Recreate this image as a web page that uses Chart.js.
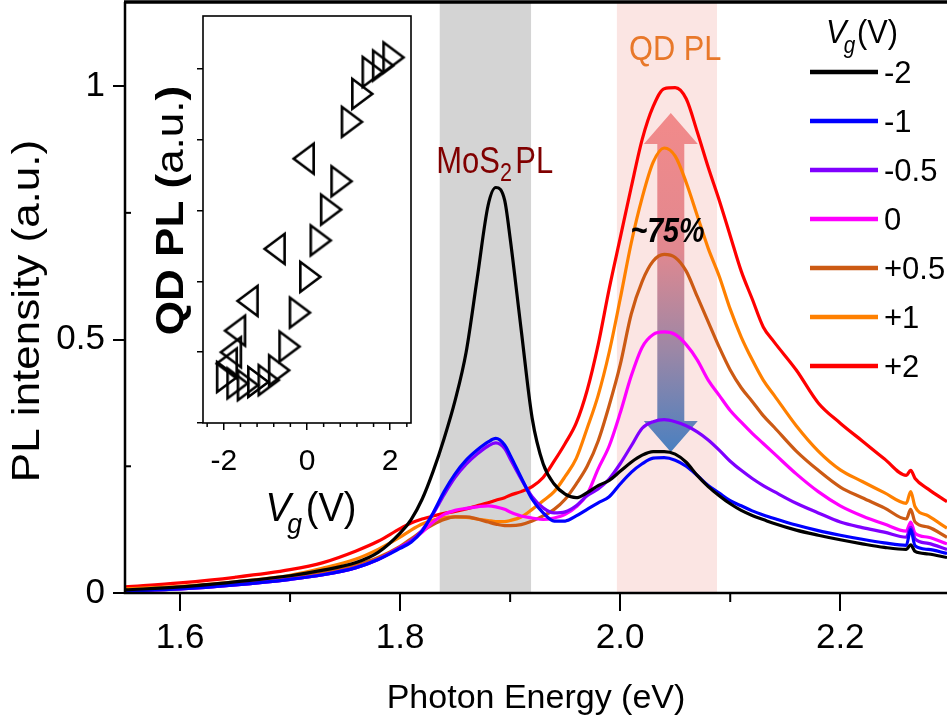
<!DOCTYPE html>
<html>
<head>
<meta charset="utf-8">
<script src="https://cdn.jsdelivr.net/npm/chart.js@4.4.1/dist/chart.umd.min.js"></script>
<style>
  html, body { margin: 0; padding: 0; background: #fff; }
  #wrap { position: relative; width: 947px; height: 725px; overflow: hidden; }
  #main { position: absolute; left: 0; top: 0; }
  #inset { position: absolute; left: 140px; top: 5px; }
</style>
</head>
<body>
<div id="wrap">
  <canvas id="main" width="947" height="725"></canvas>
  <canvas id="inset" width="290" height="555"></canvas>
</div>
<script>
// photon energy (eV)
const energy = [1.55, 1.60, 1.65, 1.70, 1.73, 1.76, 1.78, 1.80, 1.81, 1.82,
  1.83, 1.84, 1.85, 1.86, 1.87, 1.88, 1.887, 1.895, 1.90, 1.91,
  1.92, 1.93, 1.94, 1.95, 1.96, 1.97, 1.98, 1.99, 2.00, 2.01,
  2.02, 2.03, 2.04, 2.05, 2.06, 2.07, 2.08, 2.09, 2.10, 2.11,
  2.12, 2.13, 2.14, 2.16, 2.18, 2.20, 2.22, 2.24, 2.26, 2.264,
  2.268, 2.28, 2.297];

// PL intensity for each gate voltage
const plM2 = [0.006, 0.012, 0.022, 0.034, 0.045, 0.060, 0.080, 0.118, 0.145, 0.185,
  0.240, 0.305, 0.380, 0.475, 0.620, 0.765, 0.800, 0.775, 0.700, 0.520,
  0.345, 0.255, 0.215, 0.195, 0.188, 0.198, 0.212, 0.222, 0.240, 0.258,
  0.272, 0.279, 0.279, 0.274, 0.258, 0.232, 0.210, 0.192, 0.176, 0.163,
  0.153, 0.145, 0.137, 0.124, 0.114, 0.105, 0.097, 0.090, 0.086, 0.095,
  0.082, 0.077, 0.070];
const plM1 = [0.004, 0.008, 0.016, 0.027, 0.036, 0.050, 0.066, 0.088, 0.100, 0.122,
  0.158, 0.200, 0.235, 0.262, 0.282, 0.298, 0.305, 0.292, 0.272, 0.228,
  0.185, 0.158, 0.142, 0.142, 0.152, 0.165, 0.178, 0.190, 0.215, 0.238,
  0.255, 0.266, 0.267, 0.262, 0.250, 0.232, 0.212, 0.197, 0.182, 0.172,
  0.162, 0.154, 0.147, 0.134, 0.123, 0.114, 0.106, 0.099, 0.094, 0.125,
  0.093, 0.086, 0.078];
const plM05 = [0.004, 0.008, 0.016, 0.027, 0.036, 0.050, 0.066, 0.090, 0.103, 0.124,
  0.156, 0.194, 0.228, 0.254, 0.274, 0.290, 0.296, 0.285, 0.265, 0.225,
  0.190, 0.168, 0.158, 0.160, 0.172, 0.192, 0.205, 0.225, 0.255, 0.290,
  0.325, 0.338, 0.342, 0.338, 0.330, 0.318, 0.302, 0.282, 0.260, 0.242,
  0.226, 0.212, 0.200, 0.177, 0.158, 0.140, 0.129, 0.120, 0.110, 0.130,
  0.107, 0.098, 0.086];
const pl0 = [0.004, 0.008, 0.016, 0.027, 0.036, 0.050, 0.066, 0.090, 0.103, 0.120,
  0.140, 0.155, 0.163, 0.167, 0.170, 0.172, 0.170, 0.165, 0.160, 0.152,
  0.148, 0.145, 0.148, 0.155, 0.170, 0.195, 0.245, 0.290, 0.355, 0.428,
  0.485, 0.510, 0.515, 0.510, 0.490, 0.460, 0.420, 0.390, 0.360, 0.337,
  0.315, 0.295, 0.275, 0.235, 0.200, 0.172, 0.152, 0.136, 0.122, 0.140,
  0.118, 0.110, 0.097];
const plP05 = [0.005, 0.009, 0.018, 0.030, 0.040, 0.055, 0.070, 0.092, 0.107, 0.122,
  0.135, 0.145, 0.150, 0.150, 0.146, 0.140, 0.136, 0.133, 0.133, 0.135,
  0.142, 0.152, 0.165, 0.185, 0.215, 0.250, 0.300, 0.370, 0.450, 0.550,
  0.615, 0.655, 0.668, 0.662, 0.635, 0.585, 0.535, 0.485, 0.440, 0.405,
  0.378, 0.350, 0.327, 0.280, 0.242, 0.209, 0.188, 0.168, 0.146, 0.165,
  0.140, 0.130, 0.110];
const plP1 = [0.008, 0.013, 0.022, 0.035, 0.049, 0.067, 0.086, 0.110, 0.124, 0.136,
  0.144, 0.149, 0.150, 0.149, 0.146, 0.143, 0.141, 0.141, 0.143, 0.150,
  0.165, 0.182, 0.200, 0.230, 0.265, 0.325, 0.390, 0.475, 0.580, 0.690,
  0.780, 0.850, 0.878, 0.862, 0.810, 0.745, 0.680, 0.625, 0.560, 0.505,
  0.460, 0.420, 0.390, 0.330, 0.280, 0.243, 0.220, 0.198, 0.177, 0.200,
  0.170, 0.152, 0.128];
const plP2 = [0.012, 0.020, 0.031, 0.046, 0.060, 0.083, 0.102, 0.127, 0.138, 0.146,
  0.152, 0.157, 0.161, 0.166, 0.172, 0.178, 0.183, 0.188, 0.193, 0.200,
  0.210, 0.228, 0.260, 0.295, 0.335, 0.400, 0.490, 0.600, 0.700, 0.800,
  0.895, 0.960, 0.995, 0.997, 0.975, 0.910, 0.840, 0.775, 0.705, 0.635,
  0.580, 0.525, 0.495, 0.440, 0.375, 0.335, 0.300, 0.265, 0.232, 0.242,
  0.226, 0.205, 0.180];

const gateLabels = ['-2', '-1', '-0.5', '0', '+0.5', '+1', '+2'];
const gateColors = ['#000000', '#0000ff', '#8000ff', '#ff00ff', '#cc5a14', '#ff8000', '#ff0000'];
const series = [plM2, plM1, plM05, pl0, plP05, plP1, plP2];

const xMajorLabels = ['1.6', '1.8', '2.0', '2.2'];
const yMajorLabels = ['0', '0.5', '1'];

// shaded ranges (eV)
const mos2Band = [1.836, 1.919];
const qdBand = [1.997, 2.088];
// arrow: x, top tip, bottom tip (data units)
const arrowPos = [2.046, 0.947, 0.278];

// inset: QD PL vs gate voltage
const sweepUpV = [-2, -1.75, -1.5, -1.25, -1, -0.75, -0.5, -0.25, 0, 0.25, 0.5, 0.75, 1, 1.25, 1.5, 1.75, 2];
const sweepUpPL = [0.130, 0.112, 0.107, 0.116, 0.121, 0.149, 0.216, 0.312, 0.413, 0.516, 0.603, 0.683, 0.851, 0.930, 0.992, 1.010, 1.033];
const sweepDownV = [0, -0.7, -1.35, -1.65, -1.75, -1.85];
const sweepDownPL = [0.747, 0.492, 0.345, 0.261, 0.200, 0.168];

const FONT = "'Liberation Sans', Arial, Helvetica, sans-serif";
Chart.defaults.font.family = FONT;
Chart.defaults.color = '#000';

function drawRuns(ctx, runs, cx, by) {
    let total = 0;
    runs.forEach(r => {
        ctx.font = r.font;
        r.w = ctx.measureText(r.text).width + (r.kern || 0);
        total += r.w;
    });
    let xx = cx - total / 2;
    runs.forEach(r => {
        ctx.font = r.font;
        ctx.fillText(r.text, xx, by + (r.dy || 0));
        xx += r.w;
    });
}

// horizontally condensed text, centred at cx, baseline by
function squishText(ctx, runs, cx, by, sx, color) {
    ctx.save();
    ctx.translate(cx, by);
    ctx.scale(sx, 1);
    ctx.fillStyle = color;
    ctx.textAlign = 'left';
    ctx.textBaseline = 'alphabetic';
    drawRuns(ctx, runs, 0, 0);
    ctx.restore();
}

// vertical text reading bottom to top
function verticalText(ctx, runs, cx, cy, sq) {
    ctx.save();
    ctx.translate(cx, cy);
    ctx.rotate(-Math.PI / 2);
    ctx.scale(1, sq);
    ctx.fillStyle = '#000';
    ctx.textAlign = 'left';
    ctx.textBaseline = 'middle';
    drawRuns(ctx, runs, 0, 0);
    ctx.restore();
}

const isTenth = (v, list) => list.some(l => Math.abs(parseFloat(l) - v) < 1e-6);

// keep the plot area fixed: no extra room for half tick labels
function fixPadding(s) {
    s.paddingTop = 0;
    s.paddingBottom = 0;
    s.paddingLeft = 0;
    s.paddingRight = 0;
}

const decorPlugin = {
    id: 'decor',
    beforeDatasetsDraw(chart) {
        const {ctx, chartArea: a, scales: {x, y}} = chart;
        ctx.save();
        ctx.beginPath();
        ctx.rect(a.left, a.top, a.right - a.left, a.bottom - a.top);
        ctx.clip();
        ctx.fillStyle = '#d4d4d4';
        let x0 = x.getPixelForValue(mos2Band[0]), x1 = x.getPixelForValue(mos2Band[1]);
        ctx.fillRect(x0, a.top, x1 - x0, a.bottom - a.top);
        ctx.fillStyle = '#fbe5e3';
        x0 = x.getPixelForValue(qdBand[0]); x1 = x.getPixelForValue(qdBand[1]);
        ctx.fillRect(x0, a.top, x1 - x0, a.bottom - a.top);

        // double arrow
        const cx = x.getPixelForValue(arrowPos[0]);
        const yt = y.getPixelForValue(arrowPos[1]);
        const yb = y.getPixelForValue(arrowPos[2]);
        const hw = 27, sw = 13.5, hl = 31;
        const grad = ctx.createLinearGradient(0, yt, 0, yb);
        grad.addColorStop(0, '#f28a8a');
        grad.addColorStop(0.4, '#e2888f');
        grad.addColorStop(0.7, '#9c87a6');
        grad.addColorStop(1, '#4a80c0');
        ctx.fillStyle = grad;
        ctx.beginPath();
        ctx.moveTo(cx, yt);
        ctx.lineTo(cx + hw, yt + hl);
        ctx.lineTo(cx + sw, yt + hl);
        ctx.lineTo(cx + sw, yb - hl);
        ctx.lineTo(cx + hw, yb - hl);
        ctx.lineTo(cx, yb);
        ctx.lineTo(cx - hw, yb - hl);
        ctx.lineTo(cx - sw, yb - hl);
        ctx.lineTo(cx - sw, yt + hl);
        ctx.lineTo(cx - hw, yt + hl);
        ctx.closePath();
        ctx.fill();
        ctx.restore();
    },
    afterDraw(chart) {
        const {ctx, chartArea: a, scales: {x, y}} = chart;
        ctx.save();
        ctx.strokeStyle = '#000';
        ctx.lineWidth = 2.5;
        ctx.beginPath();
        ctx.moveTo(a.left, a.top);
        ctx.lineTo(a.left, a.bottom);
        ctx.lineTo(a.right, a.bottom);
        ctx.stroke();
        ctx.lineWidth = 3.5;
        ctx.beginPath();
        ctx.moveTo(a.left - 1, a.top);
        ctx.lineTo(a.right, a.top);
        ctx.stroke();

        // minor ticks
        ctx.lineWidth = 2;
        x.ticks.forEach(t => {
            if (isTenth(t.value, xMajorLabels)) return;
            const px = x.getPixelForValue(t.value);
            ctx.beginPath(); ctx.moveTo(px, a.bottom); ctx.lineTo(px, a.bottom + 9); ctx.stroke();
        });
        y.ticks.forEach(t => {
            if (isTenth(t.value, yMajorLabels)) return;
            const py = y.getPixelForValue(t.value);
            ctx.beginPath(); ctx.moveTo(a.left, py); ctx.lineTo(a.left + 6, py); ctx.stroke();
        });

        // y axis title
        verticalText(ctx, [{text: 'PL intensity (a.u.)', font: '44px ' + FONT}], 28, 311, 0.89);

        // annotations
        squishText(ctx, [
            {text: 'MoS', font: '36px ' + FONT},
            {text: '2', font: '25px ' + FONT, dy: 8, kern: 4},
            {text: 'PL', font: '36px ' + FONT}
        ], x.getPixelForValue(1.886), y.getPixelForValue(0.828), 0.86, '#800000');
        squishText(ctx, [{text: 'QD PL', font: '35px ' + FONT}],
            x.getPixelForValue(2.05), y.getPixelForValue(1.051), 0.88, '#e8782a');
        squishText(ctx, [{text: '~75%', font: 'italic bold 35px ' + FONT}],
            x.getPixelForValue(2.043), y.getPixelForValue(0.692), 0.82, '#000');

        // legend
        squishText(ctx, [
            {text: 'V', font: 'italic 34px ' + FONT, kern: -3},
            {text: 'g', font: 'italic 23px ' + FONT, dy: 10, kern: 2},
            {text: '(V)', font: '34px ' + FONT}
        ], 862, 43, 0.9, '#000');
        const lx0 = 810, lx1 = 878, ly0 = 72, dy = 49;
        chart.data.datasets.forEach((ds, i) => {
            const ly = ly0 + i * dy;
            ctx.strokeStyle = ds.borderColor;
            ctx.lineWidth = 4.5;
            ctx.beginPath(); ctx.moveTo(lx0, ly); ctx.lineTo(lx1, ly); ctx.stroke();
            ctx.fillStyle = '#000';
            ctx.font = '31px ' + FONT;
            ctx.textAlign = 'left';
            ctx.textBaseline = 'middle';
            ctx.fillText(ds.label, 884, ly + 2);
        });
        ctx.restore();
    }
};

const mainChart = new Chart(document.getElementById('main'), {
    type: 'line',
    data: {
        datasets: series.map((s, i) => ({
            label: gateLabels[i],
            data: energy.map((e, k) => ({x: e, y: s[k]})),
            borderColor: gateColors[i],
            borderWidth: 3.2,
            pointRadius: 0,
            cubicInterpolationMode: 'monotone',
            fill: false
        }))
    },
    options: {
        responsive: false,
        animation: false,
        devicePixelRatio: 1,
        layout: {padding: {top: 2, right: 0, left: 0, bottom: 0}},
        plugins: {legend: {display: false}, tooltip: {enabled: false}},
        scales: {
            x: {
                type: 'linear',
                min: 1.55,
                max: 2.297,
                afterFit: s => { s.height = 132; fixPadding(s); },
                border: {display: false},
                grid: {
                    drawOnChartArea: false,
                    tickLength: 18,
                    lineWidth: 2,
                    color: c => isTenth(c.tick.value, xMajorLabels) ? '#000' : 'rgba(0,0,0,0)'
                },
                ticks: {
                    stepSize: 0.1,
                    includeBounds: false,
                    autoSkip: false,
                    maxRotation: 0,
                    padding: 6,
                    font: {size: 35},
                    callback: v => xMajorLabels.find(l => Math.abs(parseFloat(l) - v) < 1e-6) || ''
                },
                title: {
                    display: true,
                    text: 'Photon Energy (eV)',
                    font: {size: 34},
                    padding: {top: 0, bottom: 6}
                }
            },
            y: {
                min: 0,
                max: 1.166,
                afterFit: s => { s.width = 125; fixPadding(s); },
                border: {display: false},
                grid: {
                    drawOnChartArea: false,
                    tickLength: 12,
                    lineWidth: 2,
                    color: c => isTenth(c.tick.value, yMajorLabels) ? '#000' : 'rgba(0,0,0,0)'
                },
                ticks: {
                    stepSize: 0.25,
                    includeBounds: false,
                    padding: 8,
                    font: {size: 35},
                    callback: v => yMajorLabels.find(l => Math.abs(parseFloat(l) - v) < 1e-6) || ''
                }
            }
        }
    },
    plugins: [decorPlugin]
});

// narrow open triangles for the inset markers
function makeTriangle(dir) {
    const c = document.createElement('canvas');
    c.width = 44; c.height = 40;
    const g = c.getContext('2d');
    g.strokeStyle = '#000';
    g.lineWidth = 2.6;
    const cx = 22, cy = 20, w = 20, h = 30;
    g.beginPath();
    g.moveTo(cx + dir * 2 * w / 3, cy);
    g.lineTo(cx - dir * w / 3, cy - h / 2);
    g.lineTo(cx - dir * w / 3, cy + h / 2);
    g.closePath();
    g.stroke();
    return c;
}

const insetMajor = ['-2', '0', '2'];

const insetPlugin = {
    id: 'insetDecor',
    beforeDraw(chart) {
        const {ctx, chartArea: a} = chart;
        ctx.save();
        ctx.fillStyle = '#fff';
        ctx.fillRect(a.left, a.top, a.right - a.left, a.bottom - a.top);
        ctx.restore();
    },
    afterDraw(chart) {
        const {ctx, chartArea: a, scales: {x}} = chart;
        ctx.save();
        ctx.strokeStyle = '#000';
        ctx.lineWidth = 1.6;
        ctx.strokeRect(a.left, a.top, a.right - a.left, a.bottom - a.top);
        ctx.lineWidth = 1.5;
        x.ticks.forEach(t => {
            if (isTenth(t.value, insetMajor)) return;
            const px = x.getPixelForValue(t.value);
            ctx.beginPath(); ctx.moveTo(px, a.bottom); ctx.lineTo(px, a.bottom + 4); ctx.stroke();
        });
        verticalText(ctx, [
            {text: 'QD PL (', font: 'bold 44px ' + FONT},
            {text: 'a.u.', font: '44px ' + FONT},
            {text: ')', font: 'bold 44px ' + FONT}
        ], a.left - 31, (a.top + a.bottom) / 2 - 9, 0.87);
        squishText(ctx, [
            {text: 'V', font: 'italic 40px ' + FONT, kern: -4},
            {text: 'g', font: 'italic 28px ' + FONT, dy: 12, kern: 4},
            {text: '(V)', font: '40px ' + FONT}
        ], x.getPixelForValue(0) + 4, a.bottom + 98, 0.95, '#000');
        ctx.restore();
    }
};

const insetChart = new Chart(document.getElementById('inset'), {
    type: 'scatter',
    data: {
        datasets: [
            {
                data: sweepUpV.map((v, i) => ({x: v, y: sweepUpPL[i]})),
                pointStyle: makeTriangle(1),
                pointRadius: 10
            },
            {
                data: sweepDownV.map((v, i) => ({x: v, y: sweepDownPL[i]})),
                pointStyle: makeTriangle(-1),
                pointRadius: 10
            }
        ]
    },
    options: {
        responsive: false,
        animation: false,
        devicePixelRatio: 1,
        layout: {padding: {top: 8, right: 19, left: 0, bottom: 0}},
        plugins: {legend: {display: false}, tooltip: {enabled: false}},
        scales: {
            x: {
                type: 'linear',
                min: -2.5,
                max: 2.5,
                afterFit: s => { s.height = 137; fixPadding(s); },
                border: {display: false},
                grid: {
                    drawOnChartArea: false,
                    tickLength: 7,
                    lineWidth: 1.5,
                    color: c => isTenth(c.tick.value, insetMajor) ? '#000' : 'rgba(0,0,0,0)'
                },
                ticks: {
                    stepSize: 0.4,
                    includeBounds: false,
                    autoSkip: false,
                    maxRotation: 0,
                    padding: 14,
                    font: {size: 30},
                    callback: v => insetMajor.find(l => Math.abs(parseFloat(l) - v) < 1e-6) || ''
                }
            },
            y: {
                min: 0,
                max: 1.15,
                afterFit: s => { s.width = 63; fixPadding(s); },
                border: {display: false},
                grid: {drawOnChartArea: false, tickLength: 6, lineWidth: 1.5, color: '#000'},
                ticks: {stepSize: 0.2, includeBounds: false, callback: () => ''}
            }
        }
    },
    plugins: [insetPlugin]
});
</script>
</body>
</html>
